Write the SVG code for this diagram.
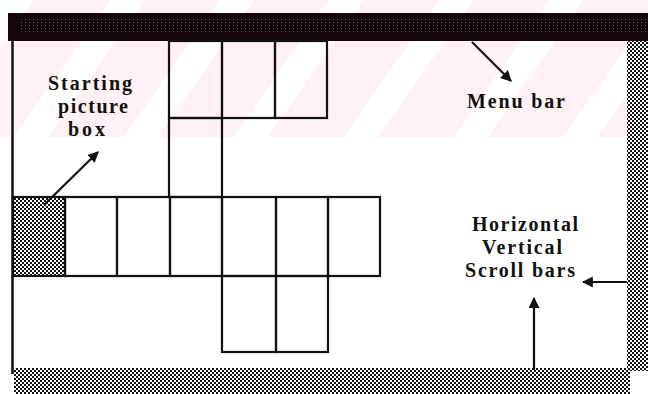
<svg xmlns="http://www.w3.org/2000/svg" width="648" height="394" viewBox="0 0 648 394">
  <defs>
    <pattern id="dither" width="4" height="4" patternUnits="userSpaceOnUse">
      <rect width="4" height="4" fill="#ffffff"/>
      <rect x="0" y="0" width="2" height="2" fill="#111"/>
      <rect x="2" y="2" width="2" height="2" fill="#111"/>
    </pattern>
    <pattern id="dots" width="4" height="3" patternUnits="userSpaceOnUse">
      <rect width="4" height="3" fill="#160609"/>
      <rect x="1" y="1" width="1" height="1" fill="#6a6a6a"/>
    </pattern>
    <pattern id="stripes" width="90" height="90" patternUnits="userSpaceOnUse" patternTransform="rotate(35)">
      <rect width="90" height="90" fill="#fff1f4"/>
      <rect x="0" y="0" width="28" height="90" fill="#ffffff"/>
    </pattern>
    <marker id="arr" viewBox="0 0 10 10" refX="9" refY="5" markerWidth="5" markerHeight="5" orient="auto" markerUnits="strokeWidth">
      <path d="M0,0 L10,5 L0,10 z" fill="#111"/>
    </marker>
    <style>
      .cell { fill: none; stroke: #111; stroke-width: 2.2; }
      .lbl { font-family: "Liberation Serif", "Times New Roman", serif; font-size: 20px; font-weight: bold; fill: #111; }
      .conn { stroke: #111; stroke-width: 2.2; fill: none; marker-end: url(#arr); }
    </style>
  </defs>

  <rect width="648" height="394" fill="#ffffff"/>
  <rect x="0" y="0" width="648" height="137" fill="url(#stripes)"/>

  <g id="menubar">
    <rect x="8" y="13" width="640" height="28" fill="#160609"/>
    <rect x="20" y="18" width="628" height="16" fill="url(#dots)" opacity="0.8"/>
  </g>

  <g id="window-frame">
    <line x1="12.5" y1="41" x2="12.5" y2="374" stroke="#111" stroke-width="2.5"/>
  </g>

  <g id="scrollbars">
    <rect x="627" y="41" width="21" height="330" fill="url(#dither)"/>
    <rect x="14" y="368" width="616" height="26" fill="url(#dither)"/>
  </g>

  <g id="starting-box">
    <rect x="13" y="197" width="52" height="79" fill="url(#dither)"/>
    <rect class="cell" x="13" y="197" width="52" height="79"/>
  </g>

  <g id="row-cells">
    <rect class="cell" x="65" y="197" width="52" height="79"/>
    <rect class="cell" x="117" y="197" width="53" height="79"/>
    <rect class="cell" x="170" y="197" width="52" height="79"/>
    <rect class="cell" x="222" y="197" width="54" height="79"/>
    <rect class="cell" x="276" y="197" width="52" height="79"/>
    <rect class="cell" x="328" y="197" width="52" height="79"/>
  </g>

  <g id="top-cells">
    <rect class="cell" x="169" y="41" width="53" height="77"/>
    <rect class="cell" x="222" y="41" width="53" height="77"/>
    <rect class="cell" x="275" y="41" width="52" height="77"/>
    <rect class="cell" x="169" y="118" width="53" height="79"/>
  </g>

  <g id="bottom-cells">
    <rect class="cell" x="222" y="276" width="54" height="76"/>
    <rect class="cell" x="276" y="276" width="52" height="76"/>
  </g>

  <g id="labels">
    <text class="lbl" x="48" y="90" textLength="84">Starting</text>
    <text class="lbl" x="58" y="113" textLength="70">picture</text>
    <text class="lbl" x="68" y="136" textLength="37">box</text>
    <text class="lbl" x="467" y="108" textLength="98">Menu bar</text>
    <text class="lbl" x="472" y="231" textLength="106">Horizontal</text>
    <text class="lbl" x="482" y="254" textLength="80">Vertical</text>
    <text class="lbl" x="465" y="277" textLength="110">Scroll bars</text>
  </g>

  <g id="connectors">
    <line class="conn" x1="44" y1="205" x2="98" y2="152"/>
    <line class="conn" x1="472" y1="42" x2="511" y2="81"/>
    <line class="conn" x1="627" y1="282" x2="583" y2="282"/>
    <line class="conn" x1="534" y1="370" x2="534" y2="298"/>
  </g>
</svg>
